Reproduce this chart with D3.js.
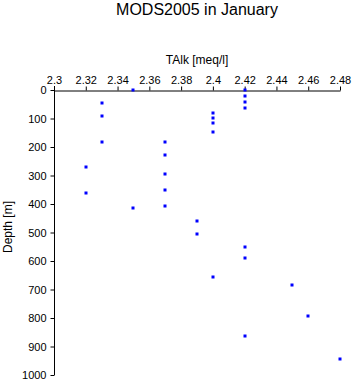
<!DOCTYPE html>
<html><head><meta charset="utf-8">
<script src="https://cdn.jsdelivr.net/npm/d3@7"></script>
<style>body{margin:0;background:#fff}svg{display:block}text{font-family:"Liberation Sans",Arial,sans-serif;fill:#000}</style>
</head><body>
<script>
const talk = [2.35,2.33,2.33,2.33,2.32,2.32,2.35,2.37,2.37,2.37,2.37,2.37,
  2.42,2.42,2.42,2.42,2.40,2.40,2.40,2.40,2.39,2.39,2.42,2.42,2.40,2.45,2.46,2.42,2.48];
const depth = [0,47,92,182,271,362,413,184,229,295,352,408,
  0,22,43,63,81,97,116,149,461,507,552,591,657,684,794,864,945];
const xTicks = [2.3,2.32,2.34,2.36,2.38,2.4,2.42,2.44,2.46,2.48];
const yTicks = [0,100,200,300,400,500,600,700,800,900,1000];

const W=353,H=384;
const svg=d3.select("body").append("svg").attr("width",W).attr("height",H);
const x=d3.scaleLinear().domain([2.3,2.48]).range([54,340]);
const y=d3.scaleLinear().domain([0,1000]).range([90,375]);

svg.append("text").attr("x",197).attr("y",15).attr("text-anchor","middle").style("font-size","16px").text("MODS2005 in January");
svg.append("text").attr("x",197).attr("y",64).attr("text-anchor","middle").style("font-size","12px").text("TAlk [meq/l]");
svg.append("text").attr("transform","translate(12,227) rotate(-90)").attr("text-anchor","middle").style("font-size","12px").text("Depth [m]");

const gx=svg.append("g").attr("transform","translate(0,90.5)")
  .call(d3.axisTop(x).tickValues(xTicks).tickSize(4).tickSizeOuter(0).tickPadding(3).tickFormat(d=>String(+d.toFixed(2))));
const gy=svg.append("g").attr("transform","translate(54.5,0)")
  .call(d3.axisLeft(y).tickValues(yTicks).tickSize(4).tickSizeOuter(0).tickPadding(4).tickFormat(d3.format("d")));
[gx,gy].forEach(g=>{g.selectAll("text").style("font-size","11px").style("font-family","Liberation Sans, Arial, sans-serif");
  g.selectAll("path,line").attr("stroke","#000");});
gy.select(".domain").attr("d","M0,86V375");

svg.append("g").selectAll("rect").data(talk.map((t,i)=>[t,depth[i]])).join("rect")
  .attr("x",d=>Math.round(x(d[0]))-1.5).attr("y",d=>Math.round(y(d[1]))-1.5)
  .attr("width",3).attr("height",3).attr("fill","#0000ff");
</script>
</body></html>
